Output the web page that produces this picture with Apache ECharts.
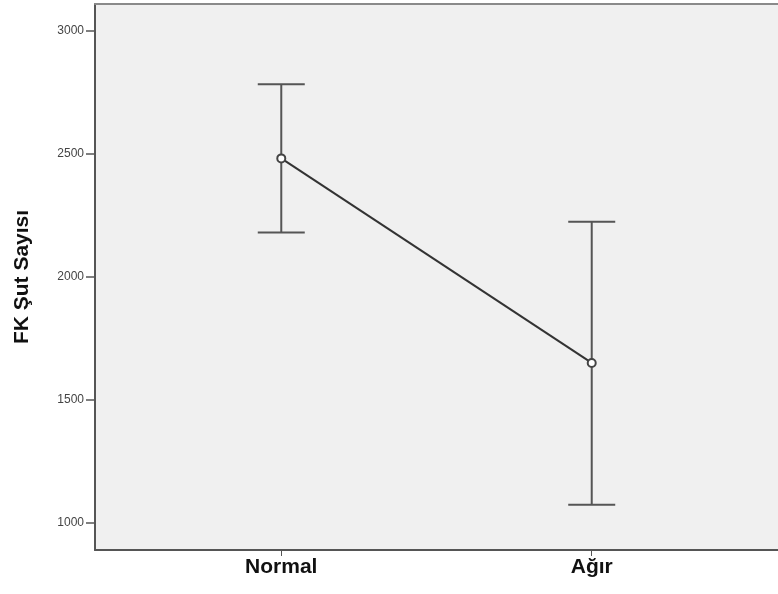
<!DOCTYPE html>
<html><head><meta charset="utf-8">
<script src="https://cdn.jsdelivr.net/npm/echarts@6/dist/echarts.min.js"></script>
<style>html,body{margin:0;padding:0;background:#fff}#c{width:778px;height:594px}</style>
</head><body><div id="c"></div>
<script>
const categories = ['Normal', 'Ağır'];
const catPositions = [1, 2];
const means = [2482, 1650];
const upper = [2784, 2224];
const lower = [2181, 1073];
const yTicks = [1000, 1500, 2000, 2500, 3000];
const yTitle = 'FK Şut Sayısı';

const chart = echarts.init(document.getElementById('c'));
const lineData = catPositions.map((x, i) => [x, means[i]]);
const errData = catPositions.map((x, i) => [x, lower[i], upper[i]]);

chart.setOption({
  animation: false,
  grid: {
    left: 95, right: 0, top: 4, bottom: 44,
    show: true, backgroundColor: '#f0f0f0', borderWidth: 0
  },
  xAxis: [{
    type: 'value', min: 0.4, max: 2.6,
    splitLine: { show: false },
    axisLine: { show: true, onZero: false, lineStyle: { color: '#555', width: 2 } },
    axisTick: { show: true, customValues: catPositions, length: 6, lineStyle: { color: '#555', width: 1 } },
    axisLabel: {
      customValues: catPositions,
      formatter: v => categories[catPositions.indexOf(Math.round(v))] || '',
      fontFamily: 'Liberation Sans, Arial', fontWeight: 'bold', fontSize: 21, color: '#111', margin: 7
    }
  }, {
    type: 'value', min: 0.4, max: 2.6, position: 'top',
    splitLine: { show: false },
    axisLine: { show: true, onZero: false, lineStyle: { color: '#8a8a8a', width: 2 } },
    axisTick: { show: false }, axisLabel: { show: false }
  }],
  yAxis: {
    type: 'value', min: 889, max: 3110,
    name: yTitle, nameLocation: 'middle', nameGap: 62, nameRotate: 90,
    nameTextStyle: { fontFamily: 'Liberation Sans, Arial', fontWeight: 'bold', fontSize: 21, color: '#111' },
    splitLine: { show: false },
    axisLine: { show: true, onZero: false, lineStyle: { color: '#555', width: 2 } },
    axisTick: { show: true, customValues: yTicks, length: 9, lineStyle: { color: '#555', width: 1.5 } },
    axisLabel: {
      customValues: yTicks,
      formatter: v => String(v),
      fontFamily: 'Liberation Sans, Arial', fontSize: 12, color: '#444', margin: 11
    }
  },
  series: [
    {
      type: 'custom',
      data: errData,
      renderItem: function (params, api) {
        const x = api.value(0);
        const lo = api.coord([x, api.value(1)]);
        const hi = api.coord([x, api.value(2)]);
        const half = 23.5;
        const style = { stroke: '#555', lineWidth: 2 };
        return {
          type: 'group',
          children: [
            { type: 'line', shape: { x1: lo[0], y1: lo[1], x2: hi[0], y2: hi[1] }, style: style },
            { type: 'line', shape: { x1: hi[0] - half, y1: hi[1], x2: hi[0] + half, y2: hi[1] }, style: style },
            { type: 'line', shape: { x1: lo[0] - half, y1: lo[1], x2: lo[0] + half, y2: lo[1] }, style: style }
          ]
        };
      },
      z: 2
    },
    {
      type: 'line',
      data: lineData,
      symbol: 'emptyCircle', symbolSize: 8,
      lineStyle: { color: '#333', width: 2 },
      itemStyle: { color: '#444', borderWidth: 1.5 },
      z: 3
    }
  ]
});
</script></body></html>
